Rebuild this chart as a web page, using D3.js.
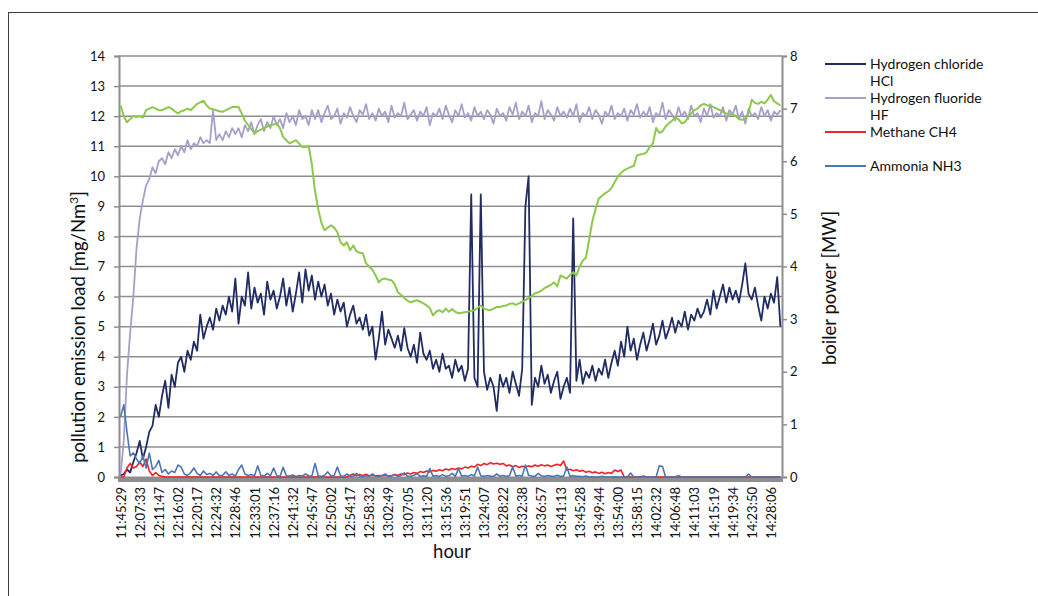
<!DOCTYPE html>
<html>
<head>
<meta charset="utf-8">
<script src="https://cdn.jsdelivr.net/npm/d3@7"></script>
<style>
body { margin: 0; background: #fff; }
svg { display: block; font-family: Lato, "Open Sans", sans-serif; }
</style>
</head>
<body>
<svg id="chart"></svg>
<script>
const w = 1038
const h = 596

//time labels, one every labelEvery samples
const labelEvery = 6
const timeLabels = ['11:45:29', '12:07:33', '12:11:47', '12:16:02', '12:20:17', '12:24:32', '12:28:46',
    '12:33:01', '12:37:16', '12:41:32', '12:45:47', '12:50:02', '12:54:17', '12:58:32', '13:02:49',
    '13:07:05', '13:11:20', '13:15:36', '13:19:51', '13:24:07', '13:28:22', '13:32:38', '13:36:57',
    '13:41:13', '13:45:28', '13:49:44', '13:54:00', '13:58:15', '14:02:32', '14:06:48', '14:11:03',
    '14:15:19', '14:19:34', '14:23:50', '14:28:06']

const seriesNames = ['Hydrogen chloride HCl', 'Hydrogen fluoride HF', 'Methane CH4', 'Ammonia NH3']

// mg/Nm3
const hclValues = [
    0.05, 0.1, 0.25, 0.15, 0.5, 0.8, 1.2, 0.6, 1.0, 1.5,
    1.7, 2.4, 2.0, 2.7, 3.2, 2.3, 3.4, 3.0, 3.8, 4.0,
    3.5, 4.2, 3.9, 4.5, 4.2, 5.4, 4.6, 5.0, 5.3, 4.9,
    5.6, 5.2, 5.7, 5.4, 6.0, 5.5, 6.6, 5.1, 6.0, 5.7,
    6.8, 5.6, 6.3, 5.8, 6.1, 5.4, 6.5, 5.9, 6.2, 5.6,
    6.0, 6.6, 5.7, 6.3, 5.5, 6.1, 6.8, 5.8, 6.9, 6.2,
    6.7, 5.9, 6.5, 6.0, 6.4, 5.7, 6.1, 5.4, 5.9, 5.5,
    5.8, 5.0, 5.4, 5.7, 5.1, 5.3, 4.9, 5.4, 4.7, 5.0,
    3.9, 4.6, 5.5, 4.4, 4.9, 4.6, 4.3, 4.7, 4.2, 4.95,
    4.3, 4.0, 4.4, 3.8, 4.8, 4.1, 3.9, 4.2, 3.6, 3.9,
    3.5, 4.1, 3.6, 3.7, 3.3, 3.9, 3.5, 3.7, 3.2, 3.6,
    9.4, 3.3, 3.0, 9.4, 3.5, 2.9, 3.3, 3.0, 2.2, 3.4,
    3.0, 3.3, 2.8, 3.5, 3.1, 2.7, 3.6, 9.0, 10.0, 2.4,
    3.3, 3.0, 3.7, 3.1, 3.4, 2.8, 3.2, 3.5, 2.6, 3.0,
    3.3, 2.8, 8.6, 3.2, 3.9, 3.1, 3.5, 3.3, 3.7, 3.2,
    3.6, 3.4, 3.9, 3.3, 3.8, 4.2, 3.7, 4.5, 4.0, 5.0,
    4.2, 4.6, 3.9, 4.4, 4.8, 4.2, 4.6, 5.1, 4.4, 4.7,
    5.2, 4.6, 4.9, 5.3, 4.8, 5.2, 5.0, 5.5, 4.9, 5.4,
    5.2, 5.6, 5.3, 5.5, 5.9, 5.4, 6.2, 5.6, 6.0, 6.4,
    5.8, 6.3, 5.9, 6.2, 5.8, 6.4, 7.1, 6.1, 5.9, 6.3,
    5.7, 5.2, 6.0, 5.6, 6.1, 5.8, 6.65, 5.0
]

const hfValues = [
    0.1, 1.2, 3.4, 4.8, 6.0, 7.6, 8.6, 9.2, 9.7, 9.9,
    10.3, 10.1, 10.5, 10.6, 10.4, 10.8, 10.6, 10.9, 10.7, 11.0,
    10.8, 11.2, 10.9, 11.1, 11.0, 11.3, 11.1, 11.2, 11.1, 12.2,
    11.2, 11.4, 11.2, 11.5, 11.3, 11.6, 11.4, 11.6, 11.3, 11.7,
    11.5, 11.8, 11.4, 11.7, 11.9, 11.5, 11.8, 11.6, 12.0, 11.7,
    11.9, 11.6, 12.1, 11.8, 12.0, 11.7, 12.2, 11.9, 12.0, 11.7,
    12.2, 11.9, 12.2, 11.8, 12.1, 12.35, 11.9, 12.0, 12.25, 11.75,
    12.1, 11.95, 12.3, 12.0, 11.8, 12.2, 12.05, 12.4, 11.9, 12.1,
    11.85, 12.25, 12.0, 12.15, 11.8, 12.35, 11.95, 12.1, 12.0, 12.45,
    11.9, 12.05, 12.2, 11.85, 12.15, 12.0, 12.3, 11.7, 12.1, 12.0,
    12.25, 11.9, 12.35, 12.05, 11.8, 12.2, 12.0, 12.4, 11.95, 12.1,
    11.85, 12.3, 12.0, 12.15, 11.9, 12.2, 12.05, 11.75, 12.25, 12.0,
    12.1, 11.85, 12.3, 12.05, 12.45, 11.9, 12.15, 12.0, 12.35, 11.8,
    12.1, 12.0, 12.5, 11.9, 12.2, 12.05, 11.85, 12.3, 12.0, 12.15,
    11.95, 12.25, 12.0, 12.4, 11.8, 12.1, 12.0, 12.3, 11.9, 12.2,
    12.05, 11.75, 12.15, 12.0, 12.35, 11.9, 12.1, 12.0, 12.25, 11.85,
    12.2, 12.05, 12.4, 11.95, 12.15, 12.0, 12.3, 11.8, 12.1, 12.0,
    12.45, 11.9, 12.2, 12.05, 11.85, 12.3, 12.0, 12.15, 11.9, 12.35,
    12.0, 12.1, 11.8, 12.25, 12.0, 12.4, 11.95, 12.1, 12.0, 12.3,
    11.85, 12.2, 12.05, 12.35, 11.9, 12.15, 11.75, 12.25, 12.0, 12.1,
    11.9, 12.3, 12.0, 12.2, 11.85, 12.15, 12.05, 12.2
]

const ch4Values = [
    0, 0, 0.3, 0.45, 0.3, 0.35, 0.5, 0.35, 0.6, 0.2,
    0.05, 0.15, 0.05, 0.02, 0, 0, 0, 0, 0, 0,
    0, 0, 0, 0, 0, 0, 0, 0, 0, 0,
    0, 0, 0, 0, 0, 0, 0, 0, 0, 0,
    0, 0, 0, 0, 0, 0, 0, 0, 0, 0,
    0, 0, 0, 0, 0, 0, 0, 0, 0, 0,
    0, 0, 0, 0, 0, 0, 0, 0, 0, 0,
    0, 0, 0.06, 0.1, 0.04, 0.08, 0.05, 0.09, 0.04, 0.06,
    0.03, 0.05, 0.04, 0.06, 0.03, 0.05, 0.08, 0.06, 0.1, 0.08,
    0.13, 0.1, 0.15, 0.12, 0.18, 0.15, 0.2, 0.17, 0.22, 0.19,
    0.24, 0.21, 0.27, 0.23, 0.28, 0.25, 0.3, 0.27, 0.33, 0.3,
    0.36, 0.33, 0.42, 0.38, 0.45, 0.41, 0.48, 0.43, 0.46, 0.42,
    0.45, 0.37, 0.4, 0.34, 0.38, 0.32, 0.36, 0.33, 0.37, 0.34,
    0.4, 0.36, 0.41, 0.37, 0.4, 0.35, 0.39, 0.42, 0.38, 0.53,
    0.23, 0.26, 0.21, 0.24, 0.19, 0.22, 0.16, 0.19, 0.14, 0.17,
    0.12, 0.16, 0.11, 0.15, 0.12, 0.23, 0.18, 0.23, 0, 0,
    0, 0, 0, 0, 0.03, 0, 0, 0, 0, 0,
    0, 0, 0, 0, 0, 0, 0, 0, 0, 0,
    0, 0, 0, 0, 0, 0, 0, 0, 0, 0,
    0, 0, 0, 0, 0, 0, 0, 0, 0, 0,
    0, 0, 0, 0, 0, 0, 0, 0
]

const nh3Values = [
    2.0, 2.4, 1.5, 0.7, 0.8, 0.6, 0.45, 0.7, 0.3, 0.8,
    0.25, 0.35, 0.55, 0.15, 0.25, 0.1, 0.2, 0.15, 0.4, 0.33,
    0.1, 0.05, 0.15, 0.3, 0.12, 0.05, 0.2, 0.08, 0.12, 0.05,
    0.17, 0.04, 0.06, 0.17, 0.05, 0.1, 0.03, 0.25, 0.4, 0.1,
    0.05, 0.08, 0.04, 0.37, 0.06, 0.03, 0.12, 0.04, 0.3, 0.05,
    0.02, 0.32, 0.04, 0.03, 0.07, 0.02, 0.05, 0.03, 0.1, 0.04,
    0.03, 0.45, 0.04, 0.02, 0.06, 0.17, 0.03, 0.05, 0.33, 0.04,
    0.02, 0.1, 0.03, 0.02, 0.12, 0.03, 0.02, 0.04, 0.02, 0.1,
    0.03, 0.02, 0.05, 0.1, 0.02, 0.03, 0.08, 0.02, 0.05, 0.14,
    0.03, 0.02, 0.06, 0.11, 0.02, 0.04, 0.02, 0.28, 0.03, 0.05,
    0.02, 0.08, 0.02, 0.04, 0.12, 0.02, 0.28, 0.03, 0.05, 0.02,
    0.08, 0.03, 0.33, 0.04, 0.02, 0.05, 0.03, 0.02, 0.1, 0.03,
    0.05, 0.02, 0.04, 0.33, 0.03, 0.05, 0.03, 0.4, 0.06, 0.03,
    0.02, 0.12, 0.04, 0.02, 0.05, 0.03, 0.02, 0.06, 0.02, 0.03,
    0.33, 0.02, 0.04, 0.02, 0.02, 0.01, 0.03, 0, 0.01, 0,
    0, 0.02, 0, 0, 0, 0.01, 0, 0, 0, 0,
    0.13, 0, 0, 0, 0, 0.01, 0, 0, 0, 0.37,
    0.35, 0, 0, 0, 0, 0.05, 0, 0, 0, 0,
    0, 0, 0, 0, 0, 0, 0, 0, 0, 0,
    0, 0, 0, 0, 0, 0, 0, 0.1, 0, 0,
    0, 0, 0, 0, 0, 0, 0, 0
]

// MW, secondary axis
const boilerPower = [
    7.06, 6.86, 6.74, 6.80, 6.86, 6.84, 6.86, 6.83, 6.97, 7.00,
    7.03, 7.00, 6.97, 6.97, 7.00, 7.03, 7.00, 6.95, 6.91, 6.95,
    6.97, 7.00, 6.97, 7.03, 7.09, 7.12, 7.15, 7.06, 7.00, 6.99,
    6.97, 6.95, 6.94, 6.97, 7.00, 7.03, 7.03, 7.03, 6.91, 6.77,
    6.69, 6.61, 6.53, 6.57, 6.60, 6.63, 6.66, 6.69, 6.70, 6.72,
    6.63, 6.46, 6.40, 6.34, 6.37, 6.40, 6.34, 6.27, 6.27, 6.29,
    5.94, 5.43, 5.09, 4.83, 4.69, 4.74, 4.78, 4.74, 4.65, 4.46,
    4.40, 4.46, 4.31, 4.40, 4.29, 4.26, 4.25, 4.06, 4.00, 3.94,
    3.83, 3.70, 3.76, 3.77, 3.75, 3.74, 3.66, 3.51, 3.46, 3.40,
    3.35, 3.32, 3.34, 3.36, 3.33, 3.30, 3.26, 3.21, 3.07, 3.14,
    3.17, 3.13, 3.20, 3.14, 3.19, 3.14, 3.11, 3.12, 3.13, 3.14,
    3.16, 3.17, 3.21, 3.26, 3.20, 3.18, 3.17, 3.20, 3.23, 3.23,
    3.25, 3.26, 3.29, 3.30, 3.27, 3.30, 3.33, 3.36, 3.40, 3.44,
    3.49, 3.51, 3.54, 3.59, 3.62, 3.65, 3.70, 3.62, 3.83, 3.80,
    3.77, 3.84, 3.89, 3.83, 4.00, 4.11, 4.17, 4.51, 4.86, 5.09,
    5.29, 5.34, 5.39, 5.43, 5.49, 5.60, 5.71, 5.78, 5.83, 5.86,
    5.89, 5.91, 6.11, 6.13, 6.14, 6.17, 6.27, 6.34, 6.63, 6.54,
    6.57, 6.66, 6.72, 6.77, 6.83, 6.80, 6.72, 6.74, 6.83, 6.91,
    6.97, 7.00, 7.06, 7.09, 7.06, 7.06, 7.03, 7.00, 6.97, 6.94,
    6.91, 6.89, 6.89, 6.86, 6.80, 6.79, 6.80, 6.91, 7.17, 7.11,
    7.09, 7.13, 7.10, 7.17, 7.26, 7.14, 7.10, 7.06
]

//plot area
const plot = { left: 119, right: 782, top: 56, bottom: 477 }
const gridColor = '#8e8e8e'
const fontFamily = 'Lato, "Open Sans", sans-serif'

const series = [
    { name: seriesNames[0], values: hclValues, color: '#212c62', width: 1.8 },
    { name: seriesNames[1], values: hfValues, color: '#a79fc9', width: 1.8 },
    { name: seriesNames[2], values: ch4Values, color: '#ee2327', width: 1.6 },
    { name: seriesNames[3], values: nh3Values, color: '#4a76b3', width: 1.6 }
]

const svg = d3.select('#chart')
    .attr('width', w)
    .attr('height', h)

//chart frame (runs off the page on the right and bottom)
svg.append('rect')
    .attr('x', 8.5)
    .attr('y', 12.5)
    .attr('width', 1200)
    .attr('height', 800)
    .attr('fill', 'none')
    .attr('stroke', '#3c3c3c')

const x = d3.scaleLinear().domain([0, hclValues.length]).range([plot.left, plot.right])
const yLeft = d3.scaleLinear().domain([0, 14]).range([plot.bottom, plot.top])
const yRight = d3.scaleLinear().domain([0, 8]).range([plot.bottom, plot.top])

//gridlines
svg.append('g')
    .selectAll('line')
    .data(d3.range(1, 15))
    .join('line')
    .attr('x1', plot.left)
    .attr('x2', plot.right)
    .attr('y1', d => yLeft(d))
    .attr('y2', d => yLeft(d))
    .attr('stroke', gridColor)
    .attr('stroke-width', 1.5)

//category tick marks are so dense they form a band
svg.append('rect')
    .attr('x', plot.left - 1)
    .attr('y', plot.bottom - 0.5)
    .attr('width', plot.right - plot.left + 2)
    .attr('height', 5.5)
    .attr('fill', gridColor)

const styleAxis = (g, size) => {
    g.attr('font-family', fontFamily).attr('font-size', size)
    g.select('.domain').attr('stroke', gridColor).attr('stroke-width', 2)
    g.selectAll('.tick line').attr('stroke', gridColor).attr('stroke-width', 1.5)
    g.selectAll('.tick text').attr('fill', '#111')
}

const leftAxis = svg.append('g')
    .attr('transform', `translate(${plot.left},0)`)
    .call(d3.axisLeft(yLeft).ticks(14).tickSize(5).tickPadding(9))
styleAxis(leftAxis, 13)

const rightAxis = svg.append('g')
    .attr('transform', `translate(${plot.right},0)`)
    .call(d3.axisRight(yRight).ticks(8).tickSize(5).tickPadding(3))
styleAxis(rightAxis, 13)

const bottomAxis = svg.append('g')
    .attr('transform', `translate(0,${plot.bottom})`)
    .call(d3.axisBottom(x)
        .tickValues(timeLabels.map((t, j) => j * labelEvery + 0.5))
        .tickFormat((d, j) => timeLabels[j])
        .tickSize(0))
bottomAxis.attr('font-family', fontFamily).attr('font-size', 13)
bottomAxis.select('.domain').remove()
bottomAxis.selectAll('.tick text')
    .attr('transform', 'rotate(-90)')
    .attr('text-anchor', 'end')
    .attr('x', -10)
    .attr('y', 0)
    .attr('dy', '0.35em')
    .attr('fill', '#111')

//series
const lineLeft = d3.line()
    .x((d, i) => x(i + 0.5))
    .y(d => yLeft(d))

svg.append('g')
    .selectAll('path')
    .data(series)
    .join('path')
    .attr('d', d => lineLeft(d.values))
    .attr('fill', 'none')
    .attr('stroke', d => d.color)
    .attr('stroke-width', d => d.width)
    .attr('stroke-linejoin', 'round')

const lineRight = d3.line()
    .x((d, i) => x(i + 0.5))
    .y(d => yRight(d))

svg.append('path')
    .attr('d', lineRight(boilerPower))
    .attr('fill', 'none')
    .attr('stroke', '#8dc84c')
    .attr('stroke-width', 2)
    .attr('stroke-linejoin', 'round')

//axis titles
const leftTitle = svg.append('text')
    .attr('transform', 'translate(85,327) rotate(-90)')
    .attr('text-anchor', 'middle')
    .attr('font-family', fontFamily)
    .attr('font-size', 18.5)
    .attr('fill', '#111')
leftTitle.append('tspan').text('pollution emission load [mg/Nm')
leftTitle.append('tspan').attr('font-size', 12).attr('dy', -7).text('3')
leftTitle.append('tspan').attr('dy', 7).text(']')

svg.append('text')
    .attr('transform', 'translate(836,288) rotate(-90)')
    .attr('text-anchor', 'middle')
    .attr('font-family', fontFamily)
    .attr('font-size', 18.5)
    .attr('fill', '#111')
    .text('boiler power [MW]')

svg.append('text')
    .attr('x', 452)
    .attr('y', 558)
    .attr('text-anchor', 'middle')
    .attr('font-family', fontFamily)
    .attr('font-size', 18.5)
    .attr('fill', '#111')
    .text('hour')

//legend
const legendX = 825
const legendTop = 64
const legendStep = 34
const legendMaxWidth = 125

const legend = svg.append('g')
    .attr('font-family', fontFamily)
    .attr('font-size', 14)

series.forEach((s, k) => {
    const y = legendTop + k * legendStep
    const item = legend.append('g').attr('transform', `translate(${legendX},${y})`)
    item.append('line')
        .attr('x1', 0).attr('x2', 41)
        .attr('y1', 0).attr('y2', 0)
        .attr('stroke', s.color)
        .attr('stroke-width', 2)
    const text = item.append('text')
        .attr('x', 45)
        .attr('y', 5)
        .attr('fill', '#111')
    //wrap the name like the legend box does
    const words = s.name.split(' ')
    let line = []
    let tspan = text.append('tspan').attr('x', 45).attr('dy', 0)
    words.forEach(word => {
        line.push(word)
        tspan.text(line.join(' '))
        if (tspan.node().getComputedTextLength() > legendMaxWidth && line.length > 1) {
            line.pop()
            tspan.text(line.join(' '))
            line = [word]
            tspan = text.append('tspan').attr('x', 45).attr('dy', 17).text(word)
        }
    })
})
</script>
</body>
</html>
